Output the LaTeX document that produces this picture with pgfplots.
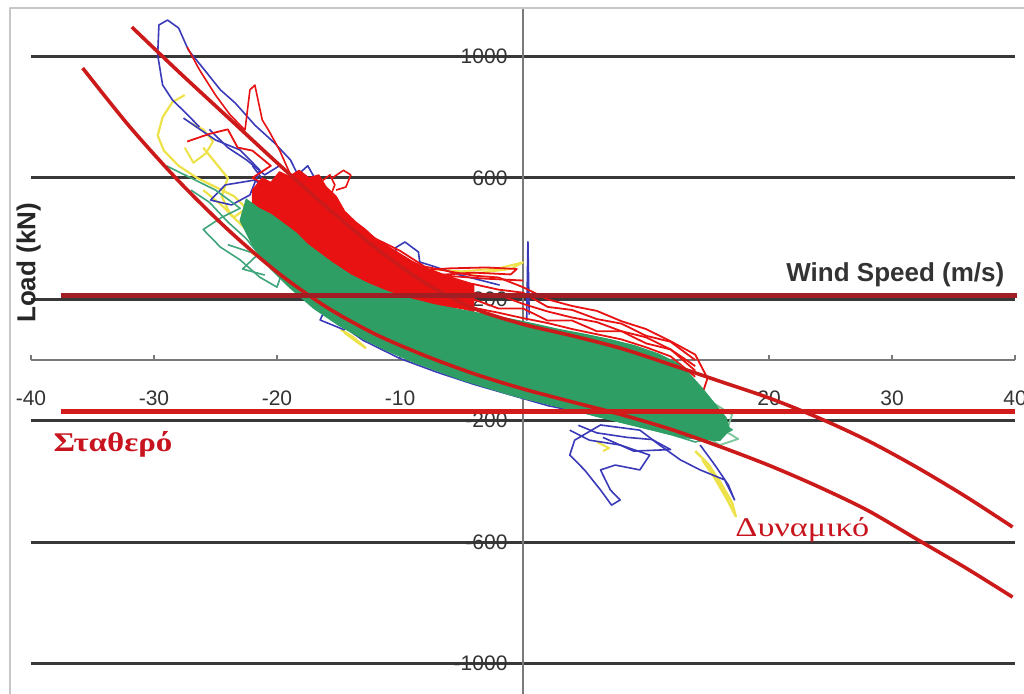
\documentclass[border=0pt]{standalone}
\usepackage{graphicx}
\usepackage{pgfplots}
\pgfplotsset{compat=1.18}
\usepackage{fontspec}
\setmainfont{Liberation Sans}
\newfontfamily\greekserif{Liberation Serif}
\definecolor{gridc}{HTML}{383838}
\definecolor{axisc}{HTML}{7A7A7A}
\definecolor{gband}{HTML}{2E9E64}
\definecolor{gline}{HTML}{3FA57A}
\definecolor{lgline}{HTML}{7CC49A}
\definecolor{rline}{HTML}{E81212}
\definecolor{cred}{HTML}{CC1A1A}
\definecolor{hred1}{HTML}{A01E24}
\definecolor{hred2}{HTML}{D21C1C}
\definecolor{bline}{HTML}{3A3AB8}
\definecolor{yline}{HTML}{EDE24A}
\definecolor{tred}{HTML}{C8141E}
\begin{document}
\begin{tikzpicture}
\begin{axis}[
  scale only axis, width=492pt, height=342.96pt,
  xmin=-40, xmax=40, ymin=-1100, ymax=1160,
  axis lines=middle,
  axis line style={-, draw=axisc, line width=1pt},
  clip=false,
  xtick={-40,-30,-20,-10,10,20,30,40},
  ytick={-1000,-600,-200,200,600,1000},
  ymajorgrids, grid style={draw=gridc, line width=1.5pt},
  xtick align=inside,
  major tick length=2.5pt,
  x tick style={draw=axisc, line width=0.8pt},
  y tick style={draw=none},
  /pgf/number format/assume math mode=true,
  /pgf/number format/1000 sep={},
  tick label style={font=\fontsize{10.5}{12}\selectfont, text=black!80},
  xticklabel style={anchor=center, yshift=-19pt},
  yticklabel style={anchor=east, xshift=-3pt},
  line join=round,
]
% frame
\draw[black!22, line width=1pt] (axis cs:-41.7,-1250) -- (axis cs:-41.7,1160) -- (axis cs:42,1160);
% yellow
\addplot[draw=yline, line width=1.1pt] coordinates {(-27.5,873) (-28.5,850) (-29.3,800) (-29.7,740) (-29.2,690) (-28,640) (-26.5,600) (-25,570) (-23.5,540) (-22.5,500) (-23.5,470) (-24.5,510) (-26,560)};
\addplot[draw=yline, line width=1.1pt] coordinates {(-26,700) (-25,650) (-24,600) (-24.5,540) (-23.8,480) (-22.5,430) (-21,380) (-22,350) (-20.5,330)};
\addplot[draw=yline, line width=1pt] coordinates {(-27,780) (-26,760) (-25.2,720) (-25.8,680) (-26.8,650) (-27.5,700)};
\addplot[draw=yline, line width=1pt] coordinates {(-7.6,300) (-5,292) (-2,302) (0,322) (-1,300) (-4,285) (-6,290)};
\addplot[draw=yline, line width=1.2pt] coordinates {(-14.5,90) (-13.5,60) (-12.8,40) (-13.8,75) (-14.8,100)};
\addplot[draw=yline, line width=1.2pt] coordinates {(14,-300) (15,-340) (16,-400) (17,-470) (17.3,-515) (16.6,-460) (15.6,-390) (14.6,-330) (15.2,-350) (16.2,-430)};
\addplot[draw=yline, line width=1pt] coordinates {(6,-270) (7,-290) (6.5,-300)};
% blue
\addplot[draw=bline, line width=0.8pt] coordinates {(-26.3,768) (-27.5,817) (-28.5,857) (-29.3,906) (-29.7,1005) (-29.6,1104) (-28.9,1120) (-28.0,1094) (-27.2,1021) (-25.9,956) (-24.6,890) (-23.4,847) (-21.8,774) (-20.2,715) (-18.9,659) (-18.1,593) (-18.6,527) (-20.2,478) (-21.4,428)};
\addplot[draw=bline, line width=0.8pt] coordinates {(-27.6,797) (-25,725) (-23,692) (-21.4,626) (-22.2,544) (-23.7,511) (-25.4,527) (-24.2,577) (-21.8,593) (-19.8,527) (-18.1,428) (-18.9,329) (-17.3,264) (-15.7,198) (-16.5,132) (-14.5,99)};
\addplot[draw=bline, line width=0.8pt] coordinates {(-22,640) (-20.5,560) (-19,500) (-20,430) (-19.2,380) (-17.6,330) (-16.8,380) (-17.5,450) (-16,470)};
\addplot[draw=bline, line width=0.8pt] coordinates {(-25.5,760) (-24,700) (-22.5,660) (-21,610) (-19.8,640) (-18.6,600) (-17.5,640) (-16.8,590)};
\addplot[draw=bline, line width=0.8pt] coordinates {(-10,313) (-10.4,369) (-9.6,389) (-8.5,356) (-8.4,323) (-7.6,313) (-5.1,280) (-1.9,247)};
\addplot[draw=bline, line width=0.8pt] coordinates {(0.3,130) (0.4,390) (0.5,150)};
\addplot[draw=bline, line width=0.8pt] coordinates {(3.8,-231) (5.4,-264) (7.9,-280) (10.3,-313) (9.5,-362) (7.5,-346) (6.3,-362) (7.1,-428) (7.9,-461) (7.2,-478) (6.3,-428) (5,-362) (3.8,-313) (4.2,-264) (6.3,-214) (9.5,-231) (11.1,-280) (12.8,-329) (14.4,-362) (16.4,-395) (17.2,-461) (16.7,-412) (15.6,-346) (14.4,-280)};
\addplot[draw=bline, line width=0.8pt] coordinates {(4.5,-215) (6,-240) (8.5,-255) (10.5,-262) (12,-295) (9,-300) (6.5,-255)};
\addplot[draw=bline, line width=0.8pt] coordinates {(-19,250) (-16,150) (-13,65) (-10,5) (-7,-40) (-4,-80) (-1,-115) (2,-150) (5,-175)};
% green thin lines
\addplot[draw=gline, line width=0.8pt] coordinates {(-24,380) (-21,340) (-18,250) (-15,150) (-12,70) (-9,10) (-6,-45) (-3,-85) (0,-125) (3,-150) (6,-185) (9,-215) (12,-245) (14,-270) (16,-250) (17,-230) (15,-180) (13,-140)};
\addplot[draw=gline, line width=0.8pt] coordinates {(-20,300) (-17,205) (-14,115) (-11,45) (-8,-15) (-5,-55) (-2,-95) (1,-125) (4,-150) (7,-175) (10,-205) (13,-240)};
\addplot[draw=gline, line width=0.8pt] coordinates {(-29,640) (-27,600) (-25,560) (-23,500) (-24.5,470) (-26,430) (-24.6,372) (-23,330) (-21.4,273) (-20,240) (-19.5,300) (-21,420) (-20,470) (-18.5,520)};
\addplot[draw=gline, line width=0.8pt] coordinates {(-27,560) (-25.5,520) (-24,455) (-22.5,400) (-21.5,350) (-22.8,300) (-21,280)};
\addplot[draw=lgline, line width=0.9pt] coordinates {(13,-100) (15,-130) (17,-180) (16.5,-240) (15,-200) (17.5,-260) (16,-280) (14,-230)};
% red core
\addplot[draw=rline, fill=rline, line width=0.6pt] coordinates {(-22,560) (-21.2,600) (-20.5,585) (-19.8,620) (-19,605) (-18.2,625) (-17.4,600) (-16.6,610) (-16,570) (-15.2,540) (-14.5,490) (-13.6,455) (-12.8,430) (-12,400) (-11,375) (-10,350) (-9,325) (-8,305) (-7,290) (-6,275) (-5,262) (-4,250) (-4,160) (-5,170) (-6,175) (-7,182) (-8,190) (-9,200) (-10,215) (-11,228) (-12,245) (-13,262) (-14,280) (-15,300) (-16,330) (-17,360) (-18,390) (-19,420) (-20,450) (-21,480) (-22,510)} -- cycle;
% red scribbles
\addplot[draw=rline, line width=0.8pt] coordinates {(-27.3,1031) (-26.3,956) (-25,873) (-23.8,807) (-22.6,758) (-22.2,890) (-21.8,906) (-21.2,791) (-20.7,758) (-19.8,692) (-18.9,610) (-17.3,560) (-15.7,610) (-15.3,577) (-16.1,494) (-14.9,428)};
\addplot[draw=rline, line width=0.9pt] coordinates {(-27.3,720) (-25.5,745) (-24,760) (-23.2,700) (-22,690) (-20.5,640) (-22,600) (-20,560)};
\addplot[draw=rline, line width=0.8pt] coordinates {(-15.5,600) (-14.6,625) (-14,610) (-14.4,570) (-15.2,560)};
\addplot[draw=rline, line width=0.9pt] coordinates {(-14,300) (-12,262) (-10,232) (-8,203) (-6,190) (-4,172) (-2,156) (0,138) (2,122) (4,102) (6,85) (8,68) (10,42) (12,12) (14,-55)};
\addplot[draw=rline, line width=0.9pt] coordinates {(-14,330) (-12,300) (-10,250) (-8,240) (-6,198) (-4,200) (-2,170) (0,170) (2,130) (4,130) (6,95) (8,95) (10,55) (12,35) (14,-35)};
\addplot[draw=rline, line width=0.9pt] coordinates {(-14,385) (-12,330) (-10,300) (-8,250) (-6,240) (-4,220) (-2,215) (0,185) (2,160) (4,140) (6,125) (8,95) (10,75) (12,35) (14,-20)};
\addplot[draw=rline, line width=0.9pt] coordinates {(-14,400) (-12,372) (-10,318) (-8,290) (-6,255) (-4,250) (-2,232) (0,222) (2,175) (4,165) (6,135) (8,120) (10,80) (12,60) (14,0)};
\addplot[draw=rline, line width=0.9pt] coordinates {(-14,460) (-12,400) (-10,360) (-8,308) (-6,292) (-4,278) (-2,272) (0,240) (2,200) (4,178) (6,162) (8,128) (10,102) (12,62) (14,18) (15,-60) (14.5,-120) (16,-180) (15,-230)};
\addplot[draw=rline, line width=0.9pt] coordinates {(-8,296) (-6,302) (-3,305) (-0.5,300) (-1,282) (-4,288) (-7,280) (-3,268) (0,262)};
% green band
\addplot[draw=gband, fill=gband, line width=0.6pt] coordinates {(-22.5,530) (-21.5,500) (-20.5,480) (-19.5,450) (-18.5,420) (-17.5,380) (-16.5,350) (-15.5,320) (-14,280) (-12.5,250) (-11,225) (-9,200) (-7,180) (-5,165) (-3,150) (-1,135) (1,118) (3,100) (5,85) (7,68) (9,48) (11,20) (12.5,-10) (13.5,-45) (14.5,-90) (15.5,-140) (16.5,-190) (16.8,-230) (16,-265) (14.5,-262) (13,-255) (11,-235) (9,-215) (7,-195) (5,-175) (3,-155) (1,-135) (-1,-115) (-3,-90) (-5,-65) (-7,-35) (-9,-5) (-11,30) (-13,70) (-15,115) (-17,170) (-19,240) (-20.5,300) (-22,380) (-23,460)} -- cycle;
% fitted curves
\addplot[draw=cred, line width=1.8pt, smooth] coordinates {(-31.8,1097) (-28,950) (-24,800) (-20,650) (-16,505) (-12,370) (-8,255) (-4,170) (0,118) (4,80) (8,38) (12,-15) (16,-70) (20,-125) (24,-190) (28,-265) (32,-353) (36,-450) (39.8,-550)};
\addplot[draw=cred, line width=1.8pt, smooth] coordinates {(-35.8,962) (-32,770) (-28,590) (-24,430) (-20,290) (-16,175) (-12,85) (-8,15) (-4,-45) (0,-95) (4,-138) (8,-180) (12,-228) (16,-285) (20,-347) (24,-417) (28,-495) (32,-590) (36,-685) (39.8,-781)};
% horizontal limits
\addplot[draw=hred1, line width=2.5pt] coordinates {(-37.6,211) (40.2,211)};
\addplot[draw=hred2, line width=2.5pt] coordinates {(-37.6,-168) (40,-168)};
% texts
\node[anchor=base east, font=\bfseries\fontsize{13}{15}\selectfont, text=black!80] at (axis cs:39.7,260) {Wind Speed (m/s)};
\node[rotate=90, font=\bfseries\fontsize{13}{15}\selectfont, text=black!85] at (axis cs:-40.2,320) {Load (kN)};
\node[anchor=base west, inner sep=0pt, text=tred, font=\greekserif\bfseries\fontsize{13.5}{16}\selectfont] at (axis cs:-38.2,-303) {\scalebox{1.22}[1]{Σταθερό}};
\node[anchor=base west, inner sep=0pt, text=tred, font=\greekserif\fontsize{13.5}{16}\selectfont] at (axis cs:17.24,-580) {\scalebox{1.27}[1]{Δυναμικό}};
\coordinate (bbA) at (axis cs:-42.52,1186.2);
\coordinate (bbB) at (axis cs:40.73,-1097.2);
\end{axis}
\pgfresetboundingbox
\path[use as bounding box] (bbA) rectangle (bbB);
\end{tikzpicture}
\end{document}
